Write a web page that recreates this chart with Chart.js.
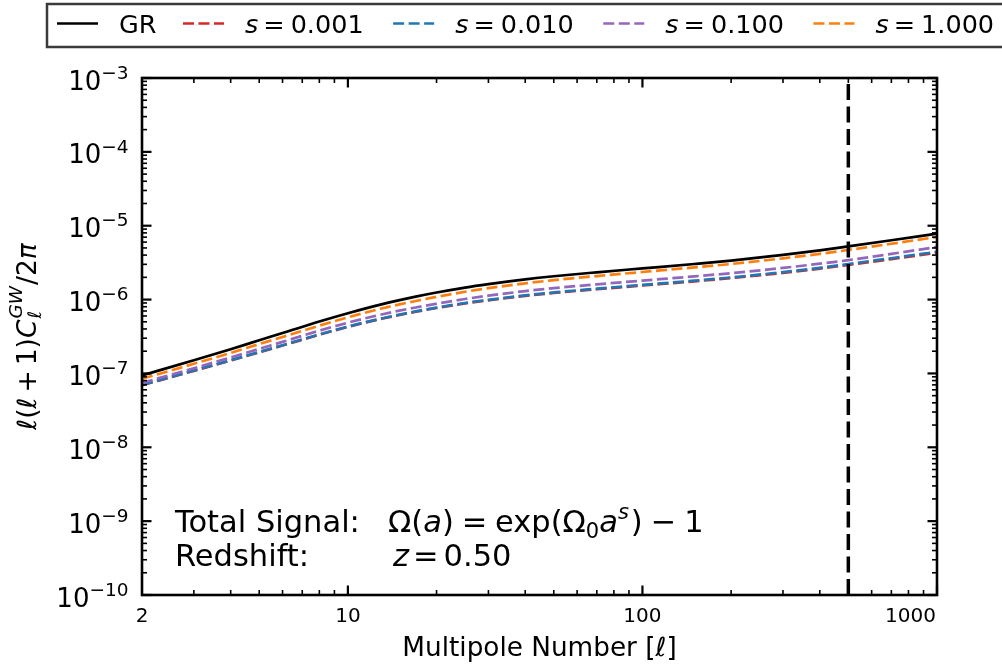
<!DOCTYPE html>
<html>
<head>
<meta charset="utf-8">
<script src="https://cdn.jsdelivr.net/npm/chart.js@4.4.1/dist/chart.umd.min.js"></script>
<style>
  html, body { margin: 0; padding: 0; background: #fff; }
</style>
</head>
<body>
<canvas id="chart" width="1002" height="666"></canvas>
<script>
// multipole numbers and l(l+1)C_l/2pi
const ells = [2, 3, 4, 5, 6, 8, 10, 13, 17, 20, 25, 30, 40, 50, 70, 100, 150, 200, 300, 400, 500, 700, 1000];
const clGR = [9.4e-8, 1.51e-7, 2.13e-7, 2.81e-7, 3.52e-7, 5.04e-7, 6.53e-7, 8.61e-7, 1.094e-6, 1.245e-6, 1.455e-6, 1.62e-6, 1.88e-6, 2.07e-6, 2.34e-6, 2.64e-6, 3.03e-6, 3.37e-6, 4.02e-6, 4.64e-6, 5.25e-6, 6.35e-6, 7.82e-6];
const clS0001 = [6.93e-8, 1.084e-7, 1.497e-7, 1.933e-7, 2.387e-7, 3.343e-7, 4.267e-7, 5.49e-7, 6.84e-7, 7.69e-7, 8.87e-7, 9.77e-7, 1.124e-6, 1.228e-6, 1.38e-6, 1.55e-6, 1.767e-6, 1.953e-6, 2.298e-6, 2.624e-6, 2.95e-6, 3.53e-6, 4.31e-6];
const clS0010 = [7.0e-8, 1.095e-7, 1.512e-7, 1.953e-7, 2.411e-7, 3.377e-7, 4.31e-7, 5.55e-7, 6.925e-7, 7.78e-7, 8.99e-7, 9.91e-7, 1.141e-6, 1.248e-6, 1.404e-6, 1.579e-6, 1.803e-6, 1.995e-6, 2.352e-6, 2.691e-6, 3.03e-6, 3.63e-6, 4.44e-6];
const clS0100 = [7.43e-8, 1.178e-7, 1.644e-7, 2.15e-7, 2.675e-7, 3.79e-7, 4.865e-7, 6.285e-7, 7.82e-7, 8.78e-7, 1.0185e-6, 1.129e-6, 1.303e-6, 1.428e-6, 1.608e-6, 1.806e-6, 2.06e-6, 2.275e-6, 2.685e-6, 3.062e-6, 3.42e-6, 4.16e-6, 5.16e-6];
const clS1000 = [8.46e-8, 1.351e-7, 1.896e-7, 2.50e-7, 3.115e-7, 4.435e-7, 5.75e-7, 7.56e-7, 9.58e-7, 1.089e-6, 1.276e-6, 1.426e-6, 1.66e-6, 1.832e-6, 2.083e-6, 2.363e-6, 2.727e-6, 3.033e-6, 3.618e-6, 4.162e-6, 4.70e-6, 5.70e-6, 7.04e-6];
const sValues = ['0.001', '0.010', '0.100', '1.000'];
const lCut = 500;
const xTicks = [2, 10, 100, 1000];
const yDecades = [-10, -9, -8, -7, -6, -5, -4, -3];
const redshift = '0.50';

const F = (size, italic) => (italic ? 'italic ' : '') + size + 'px "DejaVu Sans"';
const pts = arr => ells.map((l, i) => ({ x: l, y: arr[i] }));

// draw a row of text pieces (for the math bits), returns end x
function drawRuns(ctx, runs, x, y, measureOnly) {
  for (const r of runs) {
    let w = 0;
    if (r.stack) {
      ctx.font = r.f;
      const w1 = ctx.measureText(r.stack[0]).width;
      const w2 = ctx.measureText(r.stack[1]).width;
      if (!measureOnly) {
        ctx.fillText(r.stack[0], x, y - r.up);
        ctx.fillText(r.stack[1], x, y + r.down);
      }
      w = Math.max(w1, w2);
    } else {
      ctx.font = r.f;
      if (!measureOnly) ctx.fillText(r.t, x, y - (r.dy || 0));
      w = ctx.measureText(r.t).width;
    }
    x += w + (r.sp || 0);
  }
  return x;
}

const mplAxes = {
  id: 'mplAxes',
  afterDatasetsDraw(chart) {
    const ctx = chart.ctx;
    const a = chart.chartArea;
    const xs = chart.scales.x, ys = chart.scales.y;
    ctx.save();
    ctx.fillStyle = '#000';
    ctx.strokeStyle = '#000';
    ctx.textBaseline = 'alphabetic';

    // inward ticks on all four sides
    const tick = (x1, y1, x2, y2, w) => {
      ctx.lineWidth = w;
      ctx.beginPath(); ctx.moveTo(x1, y1); ctx.lineTo(x2, y2); ctx.stroke();
    };
    for (let d = 0; d <= 3; d++) {
      for (let m = 1; m <= 9; m++) {
        const v = m * Math.pow(10, d);
        if (v <= 2 || v > 1000) continue;
        const px = xs.getPixelForValue(v);
        const len = m === 1 ? 9.5 : 5;
        const w = m === 1 ? 2.2 : 1.6;
        tick(px, a.bottom, px, a.bottom - len, w);
        tick(px, a.top, px, a.top + len, w);
      }
    }
    for (const e of yDecades) {
      for (let m = 1; m <= 9; m++) {
        if (e === -3 && m > 1) continue;
        const py = ys.getPixelForValue(m * Math.pow(10, e));
        const len = m === 1 ? 9.5 : 5;
        const w = m === 1 ? 2.2 : 1.6;
        tick(a.left, py, a.left + len, py, w);
        tick(a.right, py, a.right - len, py, w);
      }
    }
    ctx.lineWidth = 2.6;
    ctx.strokeRect(a.left, a.top, a.right - a.left, a.bottom - a.top);

    // x tick labels
    ctx.font = F(20);
    for (const v of xTicks) {
      const px = xs.getPixelForValue(v);
      ctx.textAlign = v === 1000 ? 'right' : 'center';
      ctx.fillText(String(v), v === 1000 ? px - 1 : px, a.bottom + 27);
    }
    ctx.textAlign = 'left';

    // y tick labels 10^e
    for (const e of yDecades) {
      const py = ys.getPixelForValue(Math.pow(10, e));
      const runs = [{ t: '10', f: F(26) }, { t: '\u2212' + Math.abs(e), f: F(18.5), dy: 10.8 }];
      const w = drawRuns(ctx, runs, 0, 0, true);
      drawRuns(ctx, runs, a.left - 13.5 - w, py + 11.5);
    }

    // x title
    const xt = [{ t: 'Multipole Number [', f: F(26.3) }, { t: '\u2113', f: F(26.3, true) }, { t: ']', f: F(26.3) }];
    const xw = drawRuns(ctx, xt, 0, 0, true);
    drawRuns(ctx, xt, (a.left + a.right) / 2 - xw / 2, 655.5);

    // y title (rotated)
    const yt = [
      { t: '\u2113', f: F(26.5, true) }, { t: '(', f: F(26.5) }, { t: '\u2113', f: F(26.5, true), sp: 5 },
      { t: '+', f: F(26.5), sp: 5 }, { t: '1)', f: F(26.5) }, { t: 'C', f: F(26.5, true), sp: 1 },
      { stack: ['GW', '\u2113'], f: F(18.5, true), up: 14, down: 5, sp: 1 },
      { t: '/2', f: F(26.5) }, { t: '\u03c0', f: F(26.5, true) }
    ];
    const yw = drawRuns(ctx, yt, 0, 0, true);
    ctx.save();
    ctx.translate(36, (a.top + a.bottom) / 2);
    ctx.rotate(-Math.PI / 2);
    drawRuns(ctx, yt, -yw / 2, 0);
    ctx.restore();

    // annotation
    const tx = a.left + 33;
    ctx.font = F(30.5);
    ctx.fillText('Total Signal:', tx, 531.5);
    ctx.fillText('Redshift:', tx, 566);
    drawRuns(ctx, [
      { t: '\u03a9(', f: F(30.5) }, { t: 'a', f: F(30.5, true) }, { t: ')', f: F(30.5), sp: 8 }, { t: '=', f: F(30.5) }
    ], a.left + 246, 531.5);
    drawRuns(ctx, [
      { t: 'exp(\u03a9', f: F(30.5) }, { t: '0', f: F(21), dy: -6 }, { t: 'a', f: F(30.5, true) },
      { t: 's', f: F(21, true), dy: 12.5, sp: 2 }, { t: ')', f: F(30.5), sp: 8 },
      { t: '\u2212', f: F(30.5), sp: 8 }, { t: '1', f: F(30.5) }
    ], a.left + 353, 531.5);
    drawRuns(ctx, [
      { t: 'z', f: F(30.5, true), sp: 4 }, { t: '=', f: F(30.5), sp: 5 }, { t: redshift, f: F(30.5) }
    ], a.left + 251, 566);

    // legend
    ctx.fillStyle = '#fff';
    ctx.fillRect(47, 4, 980, 43);
    ctx.strokeStyle = '#3a3a3a';
    ctx.lineWidth = 2.5;
    ctx.strokeRect(47, 4, 980, 43);
    let lx = 57;
    const ly = 23.5;
    chart.data.datasets.forEach((ds, i) => {
      if (!ds.label) return;
      ctx.strokeStyle = ds.borderColor;
      ctx.lineWidth = ds.borderWidth;
      ctx.setLineDash(ds.borderDash || []);
      ctx.beginPath(); ctx.moveTo(lx, ly); ctx.lineTo(lx + 41, ly); ctx.stroke();
      ctx.setLineDash([]);
      ctx.fillStyle = '#000';
      let runs;
      if (i === 0) runs = [{ t: ds.label, f: F(25.5) }];
      else runs = [{ t: 's', f: F(25.5, true), sp: 5 }, { t: '=', f: F(25.5), sp: 6 }, { t: sValues[i - 1], f: F(25.5) }];
      const end = drawRuns(ctx, runs, lx + 62, 32.5);
      lx = end + (i === 0 ? 26.5 : 29.5);
    });
    ctx.restore();
  }
};

const dashed = [11, 4.5];
const smooth = { tension: 0.4, cubicInterpolationMode: 'monotone', pointRadius: 0, fill: false };
const chart = new Chart(document.getElementById('chart'), {
  type: 'line',
  data: {
    datasets: [
      { ...smooth, label: 'GR', data: pts(clGR), borderColor: '#000000', borderWidth: 2.7, order: 5 },
      { ...smooth, label: 's = 0.001', data: pts(clS0001), borderColor: '#d62728', borderWidth: 2.7, borderDash: dashed, order: 4 },
      { ...smooth, label: 's = 0.010', data: pts(clS0010), borderColor: '#1f77b4', borderWidth: 2.7, borderDash: dashed, order: 3 },
      { ...smooth, label: 's = 0.100', data: pts(clS0100), borderColor: '#9467bd', borderWidth: 2.7, borderDash: dashed, order: 2 },
      { ...smooth, label: 's = 1.000', data: pts(clS1000), borderColor: '#ff7f0e', borderWidth: 2.7, borderDash: dashed, order: 1 },
      { label: '', data: [{ x: lCut, y: 1e-10 }, { x: lCut, y: 1e-3 }], pointRadius: 0, borderColor: '#000000', borderWidth: 3.5, borderDash: [16, 6.5], order: 0 }
    ]
  },
  options: {
    responsive: false,
    animation: false,
    devicePixelRatio: 1,
    layout: { padding: { left: 142, right: 65, top: 78, bottom: 71 } },
    scales: {
      x: { type: 'logarithmic', min: 2, max: 1000, display: false },
      y: { type: 'logarithmic', min: 1e-10, max: 1e-3, display: false }
    },
    plugins: {
      legend: { display: false },
      tooltip: { enabled: false }
    }
  },
  plugins: [mplAxes]
});
</script>
</body>
</html>
